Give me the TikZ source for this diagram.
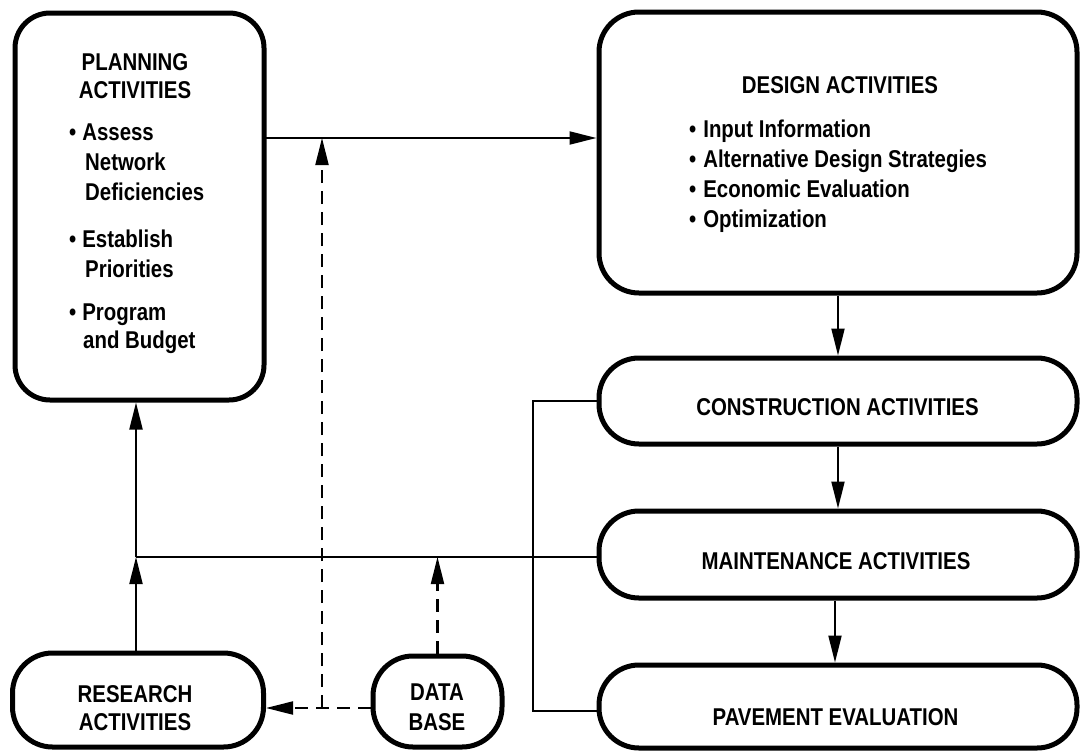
\documentclass[tikz,border=0pt]{standalone}
\usepackage{fontspec}
\setmainfont{Liberation Sans}[FakeStretch=0.84]
\usetikzlibrary{arrows.meta}
\begin{document}
\begin{tikzpicture}[x=1pt,y=-1pt,
  box/.style={draw,line width=5pt,rounded corners=#1,inner sep=0pt},
  box/.default=40pt,
  txt/.style={inner sep=0pt,font=\fontsize{24.3}{29}\selectfont\bfseries},
  conn/.style={line width=2pt},
  arr/.style={conn,-{Triangle[length=27pt,width=13pt]}},
  dashline/.style={line width=2.5pt,dash pattern=on 13pt off 8pt}
]
\useasboundingbox[fill=white] (0,0) rectangle (1081,750);

% boxes
\node[box=35pt,minimum width=249pt,minimum height=387pt] (planning) at (139.5,206.5) {};
\node[box,minimum width=478pt,minimum height=281pt] (design) at (838,152.5) {};
\node[box,minimum width=478pt,minimum height=86pt] (construction) at (838,401) {};
\node[box,minimum width=478pt,minimum height=87pt] (maintenance) at (838,554.5) {};
\node[box,minimum width=478pt,minimum height=83pt] (pavement) at (838,706.5) {};
\node[box,minimum width=251pt,minimum height=94pt] (research) at (138,700) {};
\node[box,minimum width=129pt,minimum height=91pt] (database) at (437.5,701.5) {};

% planning text
\node[txt,anchor=base] (pt1) at (135,70) {PLANNING};
\node[txt,anchor=base] (pt2) at (135,98) {ACTIVITIES};
\node[txt,anchor=base west] (pa1) at (69,140) {\textbullet\hspace{6pt}Assess};
\node[txt,anchor=base west] (pa2) at (85,170) {Network};
\node[txt,anchor=base west] (pa3) at (85,200) {Deficiencies};
\node[txt,anchor=base west] (pb1) at (69,247) {\textbullet\hspace{6pt}Establish};
\node[txt,anchor=base west] (pb2) at (85,277) {Priorities};
\node[txt,anchor=base west] (pc1) at (69,320) {\textbullet\hspace{6pt}Program};
\node[txt,anchor=base west] (pc2) at (83,348) {and Budget};

% design text
\node[txt,anchor=base] (dt) at (840,93) {DESIGN ACTIVITIES};
\node[txt,anchor=base west] (d1) at (689,137) {\textbullet\hspace{7pt}Input Information};
\node[txt,anchor=base west] (d2) at (689,167) {\textbullet\hspace{7pt}Alternative Design Strategies};
\node[txt,anchor=base west] (d3) at (689,197) {\textbullet\hspace{7pt}Economic Evaluation};
\node[txt,anchor=base west] (d4) at (689,227) {\textbullet\hspace{7pt}Optimization};

% other texts
\node[txt,anchor=base] (ct) at (837.5,415) {CONSTRUCTION ACTIVITIES};
\node[txt,anchor=base] (mt) at (836,569) {MAINTENANCE ACTIVITIES};
\node[txt,anchor=base] (pvt) at (835.5,725) {PAVEMENT EVALUATION};
\node[txt,anchor=base] (rt1) at (135,702) {RESEARCH};
\node[txt,anchor=base] (rt2) at (135,730) {ACTIVITIES};
\node[txt,anchor=base] (dbt1) at (437,700) {DATA};
\node[txt,anchor=base] (dbt2) at (437,730) {BASE};

% helper coordinates
\coordinate (pd) at (264,138);
\coordinate (J) at (136,557);
\coordinate (K) at (533,401);
\coordinate (D) at (322,708);

% connectors
\draw[arr] (pd) -- (pd -| design.west);
\draw[arr] (design) -- (construction);
\draw[arr] (construction) -- (maintenance);
\draw[arr] ([xshift=-3pt]maintenance.south) -- ([xshift=-3pt]pavement.north);

\draw[arr] (J |- research.north) -- (J);
\draw[arr] (J) -- (J |- planning.south);
\draw[conn] (J) -- (J -| maintenance.west);

\draw[conn] (construction.west) -- (K) -- ([yshift=-4pt]pavement.west -| K) -- ([yshift=-4pt]pavement.west);

\draw[dashline] (database.west |- D) -- ([xshift=24pt]research.east |- D);
\draw[arr] ([xshift=24pt]research.east |- D) -- (research.east |- D);
\draw[dashline] (D) -- ([yshift=-24pt]D |- pd);
\draw[arr] ([yshift=-24pt]D |- pd) -- (D |- pd);
\draw[dashline] (database.north) -- ([yshift=-24pt]database.north |- J);
\draw[arr] ([yshift=-24pt]database.north |- J) -- (database.north |- J);
\end{tikzpicture}
\end{document}
